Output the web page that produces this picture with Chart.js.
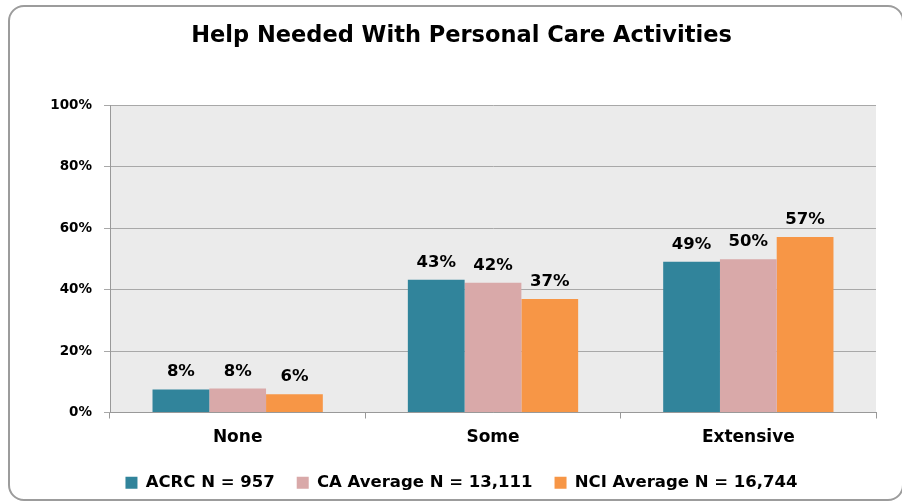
<!DOCTYPE html>
<html>
<head>
<meta charset="utf-8">
<script src="https://cdn.jsdelivr.net/npm/chart.js@4.4.1/dist/chart.umd.min.js"></script>
<style>
  html, body { margin: 0; padding: 0; background: #ffffff; }
  #wrap { position: relative; width: 902px; height: 501px; overflow: hidden; }
  #frame { position: absolute; left: 8px; top: 5px; width: 896px; height: 496px; box-sizing: border-box;
           border: 2px solid #9c9c9c; border-radius: 16px; pointer-events: none; }
  canvas { position: absolute; left: 0; top: 0; }
</style>
</head>
<body>
<div id="wrap">
  <canvas id="c" width="902" height="501"></canvas>
  <div id="frame"></div>
</div>
<script>
const categories = ["None", "Some", "Extensive"];
const seriesNames = ["ACRC N = 957", "CA Average N = 13,111", "NCI Average N = 16,744"];
const acrcValues = [7.5, 43.2, 49.0];
const caValues = [7.8, 42.2, 49.8];
const nciValues = [5.9, 36.9, 57.1];
const yTicks = [0, 20, 40, 60, 80, 100];
const titleText = "Help Needed With Personal Care Activities";

const colors = ["#31849B", "#D9A9A9", "#F79646"];

const plotBg = {
  id: 'plotBg',
  beforeDraw(chart) {
    const a = chart.chartArea, ctx = chart.ctx;
    ctx.save();
    ctx.fillStyle = '#EBEBEB';
    ctx.fillRect(a.left, a.top, a.right - a.left, a.bottom - a.top);
    ctx.restore();
  }
};

const valueLabels = {
  id: 'valueLabels',
  afterDatasetsDraw(chart) {
    const ctx = chart.ctx;
    ctx.save();
    ctx.font = 'bold 16.5px "DejaVu Sans"';
    ctx.fillStyle = '#000';
    ctx.textAlign = 'center';
    ctx.textBaseline = 'alphabetic';
    chart.data.datasets.forEach((ds, i) => {
      chart.getDatasetMeta(i).data.forEach((bar, j) => {
        ctx.fillText(Math.round(ds.data[j]) + '%', bar.x, bar.y - 13);
      });
    });
    ctx.restore();
  }
};

new Chart(document.getElementById('c'), {
  type: 'bar',
  data: {
    labels: categories,
    datasets: [
      { label: seriesNames[0], data: acrcValues, backgroundColor: colors[0] },
      { label: seriesNames[1], data: caValues, backgroundColor: colors[1] },
      { label: seriesNames[2], data: nciValues, backgroundColor: colors[2] }
    ]
  },
  options: {
    responsive: false,
    animation: false,
    devicePixelRatio: 1,
    layout: { padding: { left: 47, right: 26, top: 0, bottom: 0 } },
    datasets: { bar: { categoryPercentage: 0.667, barPercentage: 1.0 } },
    scales: {
      x: {
        grid: { drawOnChartArea: false, drawTicks: true, tickLength: 6, color: '#999999' },
        border: { color: '#999999' },
        ticks: { color: '#000', font: { family: '"DejaVu Sans"', size: 17, weight: 'bold' }, padding: 9 },
        afterFit(s) { s.height = 40; }
      },
      y: {
        min: 0, max: 100,
        afterBuildTicks(s) { s.ticks = yTicks.map(v => ({ value: v })); },
        grid: { color: '#A8A8A8', tickLength: 6, lineWidth: 1 },
        border: { color: '#999999' },
        ticks: { color: '#000', font: { family: '"DejaVu Sans"', size: 13.5, weight: 'bold' }, padding: 12,
                 callback: v => v + '%' },
        afterFit(s) { s.width = 63; }
      }
    },
    plugins: {
      title: {
        display: true, text: titleText, color: '#000',
        font: { family: '"DejaVu Sans"', size: 22.5, weight: 'bold' },
        padding: { top: 22.5, bottom: 55.5 }
      },
      legend: {
        position: 'bottom',
        labels: { color: '#000', boxWidth: 12, boxHeight: 12, padding: 22,
                  font: { family: '"DejaVu Sans"', size: 16.5, weight: 'bold' } }
      },
      tooltip: { enabled: false }
    }
  },
  plugins: [plotBg, valueLabels]
});
</script>
</body>
</html>
